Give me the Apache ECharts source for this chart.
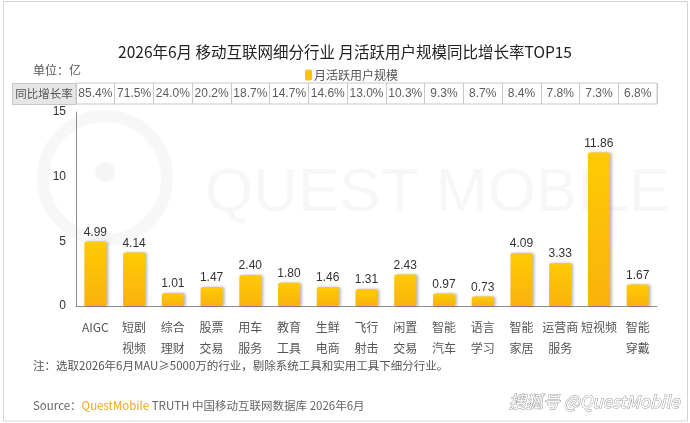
<!DOCTYPE html>
<html><head><meta charset="utf-8">
<script src="https://cdn.jsdelivr.net/npm/echarts@6/dist/echarts.min.js"></script>
<style>html,body{margin:0;padding:0;background:#fff}#c{width:690px;height:423px}</style>
</head><body><div id="c"></div>
<script>
const categories = ['AIGC','短剧\n视频','综合\n理财','股票\n交易','用车\n服务','教育\n工具','生鲜\n电商','飞行\n射击','闲置\n交易','智能\n汽车','语言\n学习','智能\n家居','运营商\n服务','短视频','智能\n穿戴'];
const mauValues = [4.99,4.14,1.01,1.47,2.40,1.80,1.46,1.31,2.43,0.97,0.73,4.09,3.33,11.86,1.67];
const growthRates = ['85.4%','71.5%','24.0%','20.2%','18.7%','14.7%','14.6%','13.0%','10.3%','9.3%','8.7%','8.4%','7.8%','7.3%','6.8%'];
const yTicks = [0,5,10,15];
const seriesName = '月活跃用户规模';

const CJK = "'Noto Sans CJK SC', sans-serif";
const NUM = "'Liberation Sans', 'Noto Sans CJK SC', sans-serif";
const barColor = new echarts.graphic.LinearGradient(0,0,0,1,[{offset:0,color:'#FFCB05'},{offset:1,color:'#F9B20C'}]);

const chart = echarts.init(document.getElementById('c'), null, {renderer:'canvas'});
chart.setOption({
  backgroundColor:'#fff',
  animation:false,
  title:{text:'2026年6月 移动互联网细分行业 月活跃用户规模同比增长率TOP15',left:'center',top:39,
    textStyle:{fontFamily:CJK,fontSize:15.5,fontWeight:'normal',color:'#222'}},
  legend:{left:300,top:64,itemWidth:7,itemHeight:11,icon:'roundRect',itemGap:4,
    data:[{name:seriesName,itemStyle:{color:'#FFC20A'}}],
    textStyle:{fontFamily:CJK,fontSize:12,color:'#555',padding:[0,0,0,-3]}},
  grid:[
    {left:76,right:33,top:112,bottom:117,containLabel:false},
    {left:76,right:33,top:83,height:21,show:true,borderColor:'#c8c8c8',borderWidth:1,backgroundColor:'transparent'}
  ],
  xAxis:[
    {type:'category',gridIndex:0,data:categories,
      axisLine:{show:true,lineStyle:{color:'#8c8c8c',width:1}},axisTick:{show:false},
      axisLabel:{interval:0,fontFamily:CJK,fontSize:12,color:'#555',lineHeight:21,margin:11}},
    {type:'category',gridIndex:1,data:categories,
      axisLine:{show:false},axisTick:{show:false},axisLabel:{show:false},
      splitLine:{show:true,interval:0,lineStyle:{color:'#c8c8c8',width:1}}}
  ],
  yAxis:[
    {type:'value',gridIndex:0,min:yTicks[0],max:yTicks[yTicks.length-1],interval:yTicks[1]-yTicks[0],
      axisLine:{show:true,lineStyle:{color:'#8c8c8c',width:1}},axisTick:{show:false},splitLine:{show:false},
      axisLabel:{fontFamily:NUM,fontSize:12,color:'#333',margin:10}},
    {type:'value',gridIndex:1,min:0,max:1,show:false}
  ],
  series:[
    {name:seriesName,type:'bar',xAxisIndex:0,yAxisIndex:0,data:mauValues,barWidth:22,z:3,
      itemStyle:{color:barColor,borderRadius:[2,2,0,0],shadowColor:'rgba(0,0,0,0.28)',shadowBlur:3,shadowOffsetX:2,shadowOffsetY:0},
      label:{show:true,position:'top',distance:3,fontFamily:NUM,fontSize:12,color:'#333',
        formatter:p=>p.value.toFixed(2)}},
    {name:'growth',type:'scatter',xAxisIndex:1,yAxisIndex:1,symbolSize:0,silent:true,
      data:growthRates.map((g,i)=>[i,0.5]),
      label:{show:true,position:'inside',fontFamily:NUM,fontSize:12,color:'#333',
        formatter:p=>growthRates[p.dataIndex]}}
  ],
  graphic:[
    {type:'rect',z:-10,silent:true,shape:{x:3.5,y:1.5,width:684,height:419.5},style:{fill:'none',stroke:'#d4d4d4',lineWidth:1}},
    {type:'circle',z:-9,silent:true,shape:{cx:105,cy:178,r:62},style:{fill:'none',stroke:'#f7f7f7',lineWidth:12}},
    {type:'circle',z:-9,silent:true,shape:{cx:105,cy:172,r:10},style:{fill:'#f5f5f5'}},
    {type:'text',z:-9,silent:true,left:205,top:163,style:{text:'QUEST MOBILE',fontFamily:"'Liberation Sans', sans-serif",fontSize:62,fill:'#f7f7f7'}},
    {type:'rect',z:10,silent:true,shape:{x:12.5,y:83.5,width:63.5,height:21},style:{fill:'#e6e6e6',stroke:'#c8c8c8',lineWidth:1}},
    {type:'text',z:11,silent:true,x:44,y:94,style:{text:'同比增长率',fontFamily:CJK,fontSize:11.5,fill:'#555',align:'center',verticalAlign:'middle'}},
    {type:'text',silent:true,left:33,top:64,style:{text:'单位：亿',fontFamily:CJK,fontSize:12,fill:'#555'}},
    {type:'text',silent:true,left:33,top:360,style:{text:'注：选取2026年6月MAU≥5000万的行业，剔除系统工具和实用工具下细分行业。',fontFamily:CJK,fontSize:11.5,fill:'#555'}},
    {type:'text',silent:true,left:33,top:400,style:{rich:{a:{fontFamily:CJK,fontSize:11.5,fill:'#666'},b:{fontFamily:CJK,fontSize:11.5,fill:'#F5A623'}},
      text:'{a|Source：}{b|QuestMobile}{a| TRUTH 中国移动互联网数据库 2026年6月}'}},
    {type:'text',silent:true,right:10,top:393,style:{text:'搜狐号 @QuestMobile',fontFamily:CJK,fontSize:17,fontStyle:'italic',fill:'#fff',stroke:'#9a9a9a',lineWidth:1}}
  ]
});
</script></body></html>
